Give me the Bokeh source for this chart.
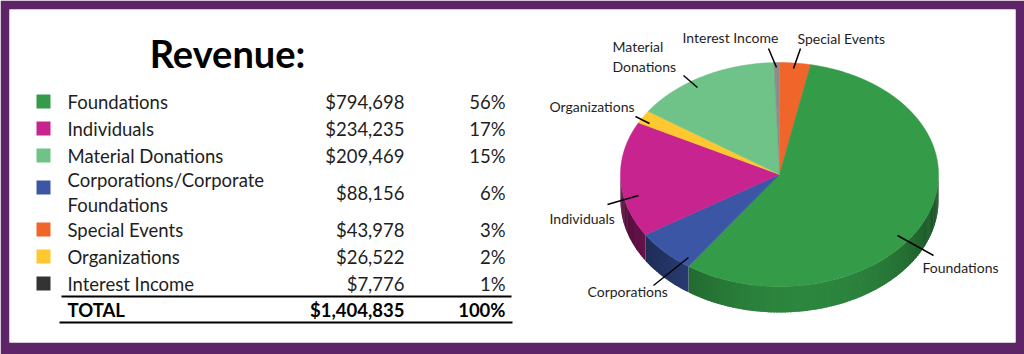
import numpy as np
from bokeh.plotting import figure
from bokeh.models import Range1d
from bokeh.core.properties import value
from bokeh.embed import file_html
from bokeh.resources import INLINE

# ---------------- data ----------------
title = "Revenue:"
categories = ["Foundations", "Individuals", "Material Donations",
              "Corporations/Corporate\nFoundations", "Special Events",
              "Organizations", "Interest Income"]
amounts = [794698, 234235, 209469, 88156, 43978, 26522, 7776]
amount_labels = ["$794,698", "$234,235", "$209,469", "$88,156", "$43,978", "$26,522", "$7,776"]
percent_labels = ["56%", "17%", "15%", "6%", "3%", "2%", "1%"]
total_label = "TOTAL"
total_amount = "$1,404,835"
total_pct = "100%"
swatch_colors = ["#349B48", "#C7248F", "#6FC388", "#3C56A6", "#F0652A", "#FFC830", "#333333"]
slice_colors = ["#349B48", "#C7248F", "#6FC388", "#3C56A6", "#F0652A", "#FFC830", "#8C8C8C"]
pie_labels = ["Foundations", "Individuals", "Material\nDonations", "Corporations",
              "Special Events", "Organizations", "Interest Income"]
pie_order = [4, 0, 3, 1, 5, 2, 6]   # clockwise from 12 o'clock

# ---------------- layout / style ----------------
W, H = 1024, 354
PURPLE = "#5E2468"
FONT = value("Lato")
TXT = "#1E1E1E"

p = figure(width=W, height=H, output_backend="svg", toolbar_location=None,
           x_axis_location=None, y_axis_location=None,
           min_border_left=9, min_border_right=9, min_border_top=9, min_border_bottom=12,
           x_range=Range1d(9, 1015), y_range=Range1d(342, 9))
p.grid.visible = False
p.outline_line_color = None
p.border_fill_color = PURPLE
p.background_fill_color = "white"

# ---------- title ----------
p.text(x=[227], y=[52], text=[title], text_font=FONT, text_font_size="38px",
       text_font_style="bold", text_color="black", text_align="center",
       text_baseline="middle")

# ---------- table ----------
FS = "18.5px"
lines_per_row = [c.count("\n") + 1 for c in categories]
row_h = [27 + 20 * (n - 1) for n in lines_per_row]
row_y = [101.0]
for i in range(1, len(categories)):
    row_y.append(row_y[-1] + (row_h[i - 1] + row_h[i]) / 2)
total_y = row_y[-1] + (row_h[-1] + 27) / 2 - 1
sw_y = [y - 5 * (n - 1) for y, n in zip(row_y, lines_per_row)]

p.rect(x=[43] * len(categories), y=sw_y, width=14, height=14,
       fill_color=swatch_colors, line_color=None)
p.text(x=[67] * len(categories), y=row_y, text=categories, text_font=FONT,
       text_font_size=FS, text_color=TXT, text_align="left",
       text_baseline="middle", text_line_height=1.1)
p.text(x=[404] * len(categories), y=row_y, text=amount_labels, text_font=FONT,
       text_font_size=FS, text_color=TXT, text_align="right",
       text_baseline="middle")
p.text(x=[505] * len(categories), y=row_y, text=percent_labels, text_font=FONT,
       text_font_size=FS, text_color=TXT, text_align="right",
       text_baseline="middle")
p.text(x=[67, 404, 505], y=[total_y] * 3, text=[total_label, total_amount, total_pct],
       text_font=FONT, text_font_size=FS, text_font_style="bold",
       text_color="black", text_align=["left", "right", "right"],
       text_baseline="middle")
p.segment(x0=[61, 59], y0=[total_y - 13, total_y + 13],
          x1=[511, 512], y1=[total_y - 13, total_y + 13],
          line_color="black", line_width=2)

# ---------- 3D pie ----------
cx, cy, rx, ry, depth = 779.0, 174.0, 159.0, 112.0, 26.0
vals = np.array([amounts[i] for i in pie_order], dtype=float)
frac = vals / vals.sum()
ends = np.cumsum(frac) * 2 * np.pi
starts = ends - frac * 2 * np.pi


def ex(t):
    return cx + rx * np.sin(t)


def ey(t):
    return cy - ry * np.cos(t)


def shade(hexc, f):
    r, g, b = int(hexc[1:3], 16), int(hexc[3:5], 16), int(hexc[5:7], 16)
    return "#%02x%02x%02x" % (int(r * f), int(g * f), int(b * f))


# side (visible between 90 and 270 degrees, measured clockwise from top)
sxs, sys_, scol = [], [], []
for k, idx in enumerate(pie_order):
    a0 = max(starts[k], np.pi / 2)
    a1 = min(ends[k], 3 * np.pi / 2)
    if a1 <= a0:
        continue
    n = max(1, int(np.degrees(a1 - a0)))
    ts = np.linspace(a0, a1, n + 1)
    step = ts[1] - ts[0]
    for j, (t1, t2) in enumerate(zip(ts[:-1], ts[1:])):
        tm = (t1 + t2) / 2
        f = 0.42 + 0.45 * max(0.0, np.cos(tm - 2.95)) ** 1.5
        c = shade(slice_colors[idx], f)
        u2 = t2 + (0.6 * step if j < n - 1 else 0.0)
        xs = [ex(t1), ex(u2), ex(u2), ex(t1)]
        ys = [ey(t1), ey(u2), ey(u2) + depth, ey(t1) + depth]
        sxs.append(xs)
        sys_.append(ys)
        scol.append(c)
p.patches(xs=sxs, ys=sys_, fill_color=scol, line_color=None)

# top face
txs, tys, tcol = [], [], []
for k, idx in enumerate(pie_order):
    n = max(2, int(np.degrees(ends[k] - starts[k])) + 2)
    ts = np.linspace(starts[k], ends[k], n)
    txs.append([cx] + list(ex(ts)))
    tys.append([cy] + list(ey(ts)))
    tcol.append(slice_colors[idx])
p.patches(xs=txs, ys=tys, fill_color=tcol, line_color=tcol, line_width=0.5)

# pie labels and leader lines (layout positions, per category order)
lab_x = [922, 549, 612, 587, 797, 549, 682]
lab_y = [267, 218, 56, 291, 38, 106, 37]
lead_x0 = [897, 607, 683, 653, 800, 635, 768]
lead_y0 = [235, 204, 75, 285, 48, 116, 48]
lead_x1 = [933, 638, 697, 688, 793, 649, 776]
lead_y1 = [255, 195, 87, 257, 68, 123, 67]
p.segment(x0=lead_x0, y0=lead_y0, x1=lead_x1, y1=lead_y1,
          line_color="black", line_width=1.5)
p.text(x=lab_x, y=lab_y, text=pie_labels, text_font=FONT, text_font_size="14px",
       text_color=TXT, text_align="left", text_baseline="middle",
       text_line_height=1.15)

open("out.html", "w").write(file_html(p, INLINE))
